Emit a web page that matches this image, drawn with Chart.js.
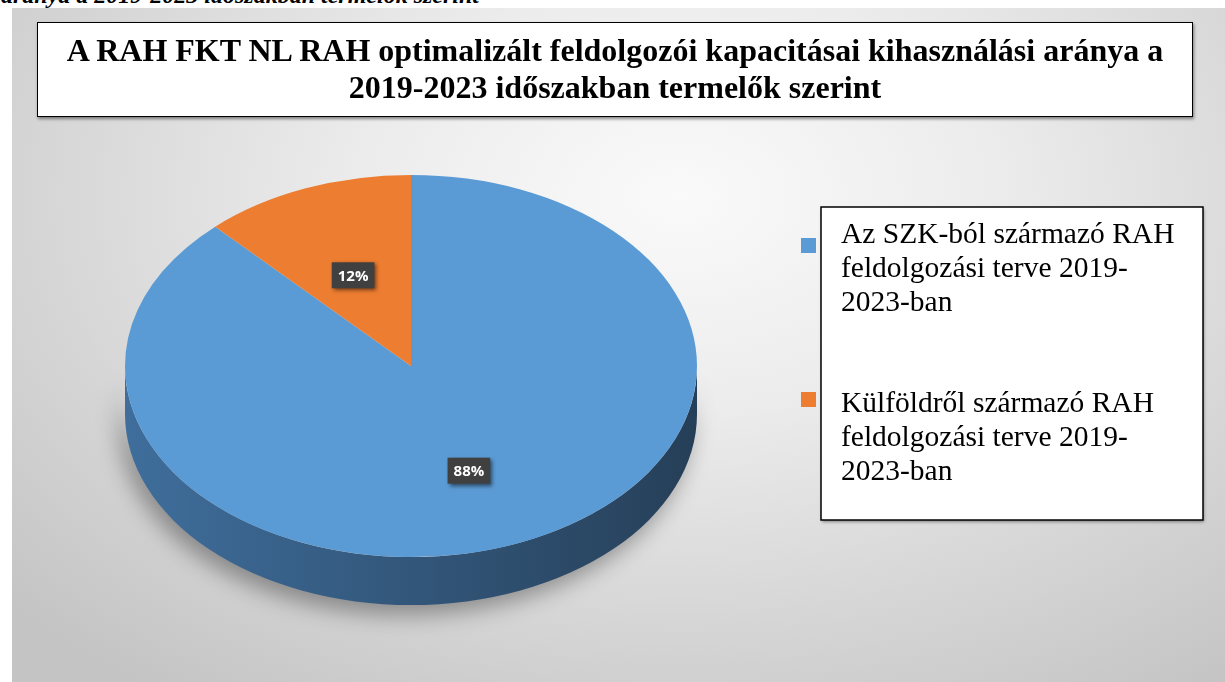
<!DOCTYPE html>
<html>
<head>
<meta charset="utf-8">
<script src="https://cdn.jsdelivr.net/npm/chart.js@4.4.0/dist/chart.umd.min.js"></script>
<style>
  body { margin: 0; background: #fff; width: 1225px; height: 682px; overflow: hidden; position: relative; }
  #caption { position: absolute; left: 1px; top: -17px; font: italic bold 24px "Liberation Serif", "Times New Roman", "DejaVu Serif", serif; line-height: 24px; white-space: nowrap; color: #000; }
  #frame { position: absolute; left: 12px; top: 8px; width: 1213px; height: 674px;
    background: radial-gradient(ellipse 75% 90% at 55% 28%, #fafafa 0%, #ececec 35%, #d6d6d6 70%, #c4c4c4 100%); }
  #title { position: absolute; left: 25px; top: 14px; width: 1156px; height: 95px; box-sizing: border-box;
    border: 1.5px solid #000; background: #fff; box-shadow: 1px 2px 3px rgba(0,0,0,0.45);
    font: bold 32px "Liberation Serif", "Times New Roman", "DejaVu Serif", serif; line-height: 37px; text-align: center; padding-top: 9px; color: #000; white-space: nowrap; }
  #chart { position: absolute; left: 0; top: 0; }
</style>
</head>
<body>
<div id="caption">aránya a 2019-2023 időszakban termelők szerint</div>
<div id="frame">
  <canvas id="chart" width="1213" height="674"></canvas>
  <div id="title">A RAH FKT NL RAH optimalizált feldolgozói kapacitásai kihasználási aránya a<br>2019-2023 időszakban termelők szerint</div>
</div>
<script>
// data
var categories = [
  ['Az SZK-ból származó RAH', 'feldolgozási terve 2019-', '2023-ban'],
  ['Külföldről származó RAH', 'feldolgozási terve 2019-', '2023-ban']
];
var shares = [88, 12];

// styles
var topColors = ['#5b9bd5', '#ed7d31'];
var sideColors = [['#3f6e9c', '#263f58'], ['#b0581f', '#7a3c14']];
var serif = '"Liberation Serif", "Times New Roman", "DejaVu Serif", serif';
var tilt = 0.668;   // ellipse ratio of the tilted pie
var depth = 48;     // thickness of the pie

// draws the pie side and squashes the top face into an ellipse
var pie3d = {
  id: 'pie3d',
  beforeDatasetsDraw: function (chart) {
    var ctx = chart.ctx;
    var meta = chart.getDatasetMeta(0);
    var cx = meta.data[0].x, cy = meta.data[0].y, r = meta.data[0].outerRadius;
    var ry = r * tilt;

    ctx.save();
    meta.data.forEach(function (arc, i) {
      for (var k = -1; k <= 1; k++) {
        var lo = Math.max(arc.startAngle, 2 * Math.PI * k);
        var hi = Math.min(arc.endAngle, 2 * Math.PI * k + Math.PI);
        if (hi <= lo) continue;
        var grad = ctx.createLinearGradient(cx - r, 0, cx + r, 0);
        grad.addColorStop(0, sideColors[i][0]);
        grad.addColorStop(1, sideColors[i][1]);
        ctx.beginPath();
        ctx.ellipse(cx, cy, r, ry, 0, lo, hi, false);
        ctx.ellipse(cx, cy + depth, r, ry, 0, hi, lo, true);
        ctx.closePath();
        ctx.shadowColor = 'rgba(0,0,0,0.35)';
        ctx.shadowBlur = 22;
        ctx.shadowOffsetX = -6;
        ctx.shadowOffsetY = 10;
        ctx.fillStyle = grad;
        ctx.fill();
      }
    });
    ctx.restore();

    ctx.save();
    ctx.translate(0, cy);
    ctx.scale(1, tilt);
    ctx.translate(0, -cy);
  },
  afterDatasetsDraw: function (chart) {
    var ctx = chart.ctx;
    ctx.restore();

    // percentage labels
    var meta = chart.getDatasetMeta(0);
    var values = chart.data.datasets[0].data;
    var total = values.reduce(function (a, b) { return a + b; }, 0);
    ctx.save();
    ctx.font = 'bold 15px "Open Sans"';
    ctx.textAlign = 'center';
    ctx.textBaseline = 'middle';
    meta.data.forEach(function (arc, i) {
      var mid = (arc.startAngle + arc.endAngle) / 2;
      var rr = arc.outerRadius * 0.55;
      var px = arc.x + Math.cos(mid) * rr;
      var py = arc.y + Math.sin(mid) * rr * tilt + 7;
      var txt = Math.round(values[i] / total * 100) + '%';
      var w = ctx.measureText(txt).width + 12, h = 26;
      ctx.save();
      ctx.shadowColor = 'rgba(0,0,0,0.55)';
      ctx.shadowBlur = 4;
      ctx.shadowOffsetX = 2;
      ctx.shadowOffsetY = 2;
      ctx.fillStyle = '#404040';
      ctx.fillRect(px - w / 2, py - h / 2, w, h);
      ctx.restore();
      ctx.fillStyle = '#fff';
      ctx.fillText(txt, px, py + 1);
    });
    ctx.restore();
  }
};

// legend box to the right
var legendBox = {
  id: 'legendBox',
  afterDraw: function (chart) {
    var ctx = chart.ctx;
    var labels = chart.data.labels;
    var colors = chart.data.datasets[0].backgroundColor;
    ctx.save();
    ctx.shadowColor = 'rgba(0,0,0,0.4)';
    ctx.shadowBlur = 3;
    ctx.shadowOffsetX = 1;
    ctx.shadowOffsetY = 2;
    ctx.fillStyle = '#fff';
    ctx.fillRect(809, 199, 382, 313);
    ctx.restore();
    ctx.save();
    ctx.lineWidth = 1.5;
    ctx.strokeStyle = '#000';
    ctx.strokeRect(809, 199, 382, 313);
    ctx.font = '29.5px ' + serif;
    ctx.fillStyle = '#000';
    ctx.textBaseline = 'alphabetic';
    var startY = [235, 404];
    var squareY = [230, 384];
    labels.forEach(function (lines, i) {
      ctx.fillStyle = colors[i];
      ctx.fillRect(789, squareY[i], 15, 15);
      ctx.fillStyle = '#000';
      lines.forEach(function (line, j) {
        ctx.fillText(line, 829, startY[i] + j * 34);
      });
    });
    ctx.restore();
  }
};

var ctx = document.getElementById('chart').getContext('2d');
var pieChart = new Chart(ctx, {
  type: 'pie',
  data: {
    labels: categories,
    datasets: [{
      data: shares,
      backgroundColor: topColors,
      borderWidth: 0
    }]
  },
  options: {
    responsive: false,
    animation: false,
    events: [],
    layout: { padding: { left: 113, right: 528, top: 72, bottom: 30 } },
    plugins: {
      legend: { display: false },
      title: { display: false },
      tooltip: { enabled: false }
    }
  },
  plugins: [pie3d, legendBox]
});
</script>
</body>
</html>
